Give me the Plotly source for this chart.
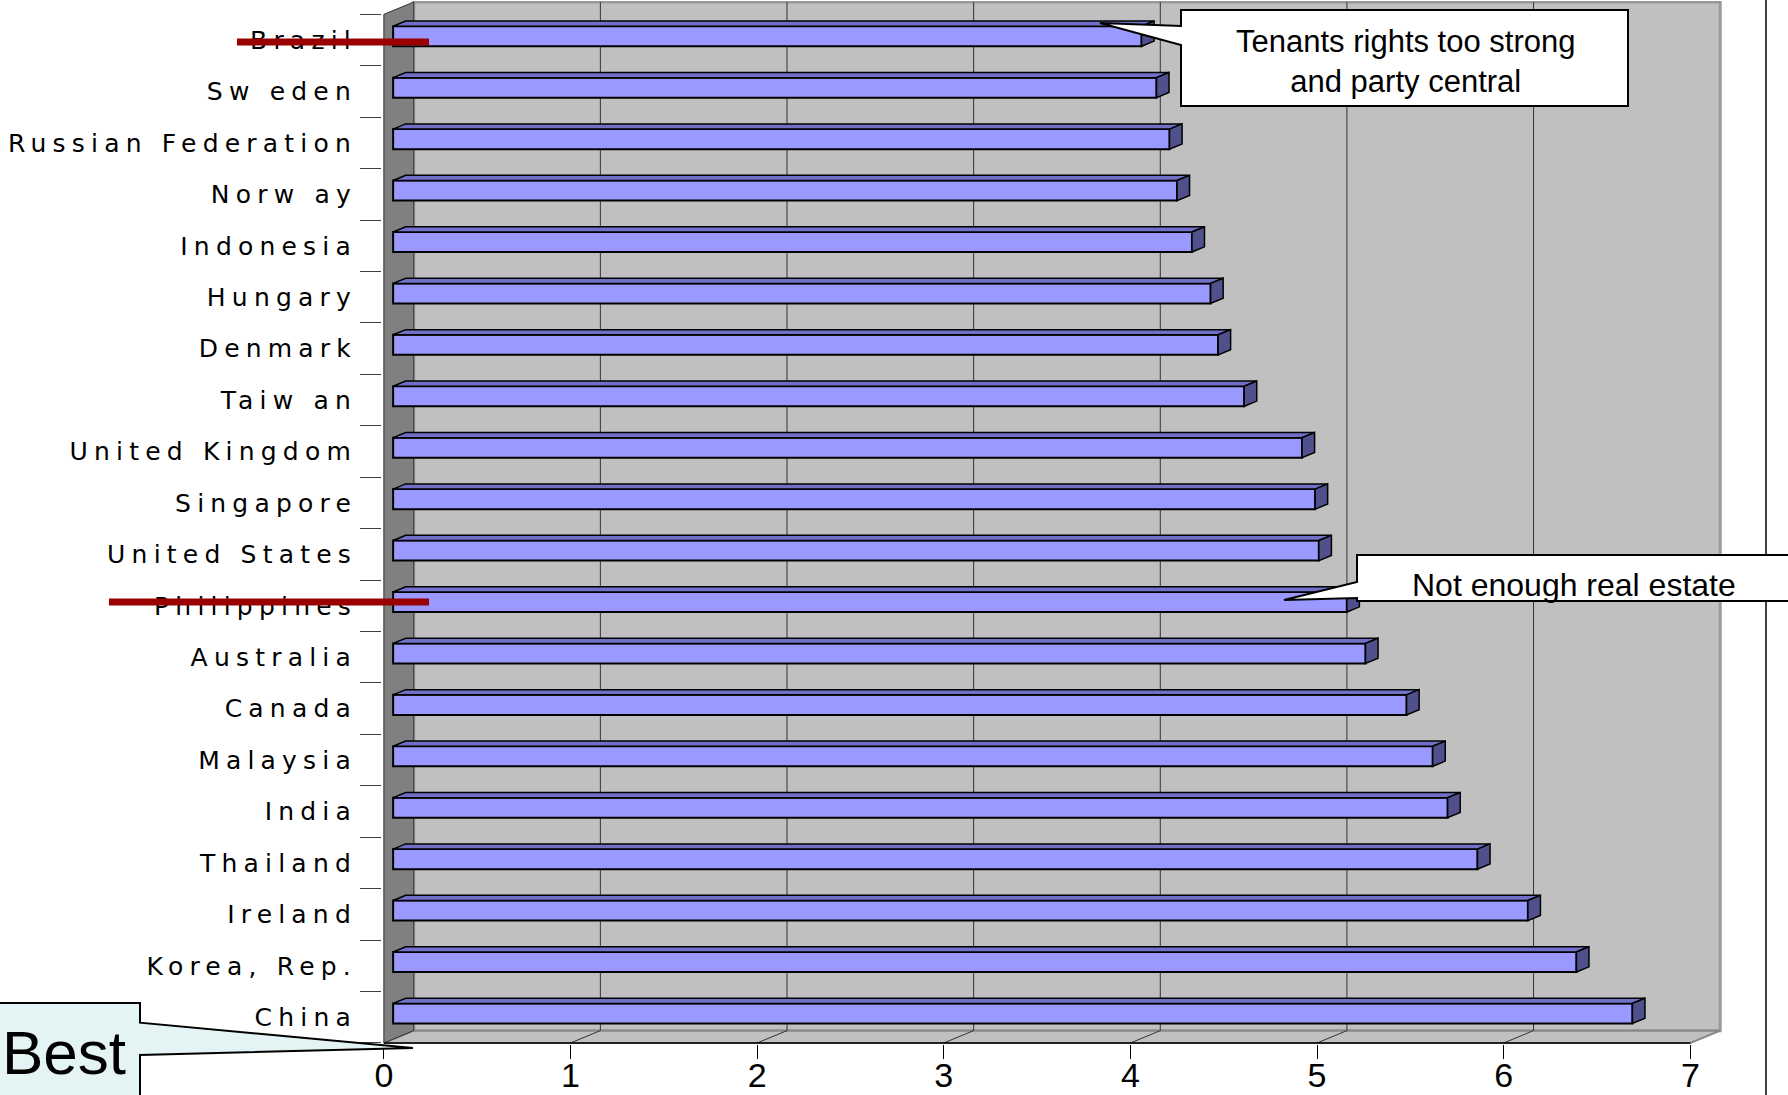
import plotly.graph_objects as go

# ---------------- data ----------------
countries = ["Brazil", "Sw eden", "Russian Federation", "Norw ay", "Indonesia",
             "Hungary", "Denmark", "Taiw an", "United Kingdom", "Singapore",
             "United States", "Philippines", "Australia", "Canada", "Malaysia",
             "India", "Thailand", "Ireland", "Korea, Rep.", "China"]
scores = [4.01, 4.09, 4.16, 4.20, 4.28, 4.38, 4.42, 4.56, 4.87, 4.94,
          4.96, 5.11, 5.21, 5.43, 5.57, 5.65, 5.81, 6.08, 6.34, 6.64]
x_ticks = [0, 1, 2, 3, 4, 5, 6, 7]
callout_top = "Tenants rights too strong<br>and party central"
callout_mid = "Not enough real estate"
callout_best = "Best"

# ---------------- geometry of the faux-3D frame ----------------
DX, DY = 0.16, 0.24          # depth offset of back wall (data units)
D1, D2 = 0.31, 0.73          # bar front / back depth fraction
BAR_H = 0.39
XMAX = 7
n = len(countries)
cats = countries[::-1]
vals = scores[::-1]
idx = list(range(n))

W, H = 1788, 1095
ML, MR, MT, MB = 382, 51, 1, 51
XR = [-0.01, 7.25]
YR = [-0.52, 19.76]
PW, PH = W - ML - MR, H - MT - MB
PLOT_BOTTOM = MT + PH


def px_x(px):
    return (px - ML) / PW


def px_y(py):
    return (PLOT_BOTTOM - py) / PH


fig = go.Figure()

# front faces
b0 = D1 * DX
fig.add_trace(go.Bar(orientation="h", y=[i + D1 * DY for i in idx], x=vals, base=b0,
                     width=BAR_H, marker=dict(color="#9999FF", line=dict(color="black", width=2)),
                     hoverinfo="skip"))

# top and side faces
ddx, ddy = (D2 - D1) * DX, (D2 - D1) * DY
tx, ty, sx, sy = [], [], [], []
for i, v in zip(idx, vals):
    yt = i + D1 * DY + BAR_H / 2
    yb = yt - BAR_H
    x1 = b0 + v
    tx += [b0, x1, x1 + ddx, b0 + ddx, b0, None]
    ty += [yt, yt, yt + ddy, yt + ddy, yt, None]
    sx += [x1, x1 + ddx, x1 + ddx, x1, x1, None]
    sy += [yt, yt + ddy, yb + ddy, yb, yt, None]
fig.add_trace(go.Scatter(x=tx, y=ty, fill="toself", fillcolor="#7070C8", mode="lines",
                         line=dict(color="black", width=1.5), hoverinfo="skip"))
fig.add_trace(go.Scatter(x=sx, y=sy, fill="toself", fillcolor="#50508C", mode="lines",
                         line=dict(color="black", width=1.5), hoverinfo="skip"))

shapes = []
y0, y1 = -0.5, n - 0.5
# back wall
shapes.append(dict(type="rect", xref="x", yref="y", x0=DX, x1=XMAX + DX, y0=y0 + DY, y1=y1 + DY,
                   fillcolor="#C0C0C0", line=dict(color="#999999", width=3), layer="below"))
# floor
shapes.append(dict(type="path", xref="x", yref="y",
                   path=f"M0,{y0} L{XMAX},{y0} L{XMAX+DX},{y0+DY} L{DX},{y0+DY} Z",
                   fillcolor="#C0C0C0", line=dict(color="#888888", width=2), layer="below"))
# left wall
shapes.append(dict(type="path", xref="x", yref="y",
                   path=f"M0,{y0} L{DX},{y0+DY} L{DX},{y1+DY} L0,{y1} Z",
                   fillcolor="#808080", line=dict(color="#333333", width=1), layer="below"))
# grid lines on back wall and floor
for k in x_ticks[1:-1]:
    shapes.append(dict(type="line", xref="x", yref="y", x0=k + DX, x1=k + DX, y0=y0 + DY, y1=y1 + DY,
                       line=dict(color="#333333", width=1), layer="below"))
    shapes.append(dict(type="line", xref="x", yref="y", x0=k, x1=k + DX, y0=y0, y1=y0 + DY,
                       line=dict(color="#333333", width=1), layer="below"))
# front floor edge (x axis line)
shapes.append(dict(type="line", xref="x", yref="y", x0=0, x1=XMAX, y0=y0, y1=y0,
                   line=dict(color="black", width=1.5), layer="above"))

# outer vertical frame line
shapes.append(dict(type="line", xref="paper", yref="paper", x0=px_x(1766), x1=px_x(1766),
                   y0=px_y(0), y1=px_y(H), line=dict(color="black", width=1.5), layer="above"))


def pth(pts):
    return "M" + " L".join(f"{px_x(a):.5f},{px_y(b):.5f}" for a, b in pts) + " Z"


# callouts
shapes.append(dict(type="path", xref="paper", yref="paper",
                   path=pth([(1181, 10), (1628, 10), (1628, 106), (1181, 106), (1181, 45), (1100, 23), (1181, 26)]),
                   fillcolor="white", line=dict(color="black", width=2), layer="above"))
shapes.append(dict(type="path", xref="paper", yref="paper",
                   path=pth([(1357, 555), (1800, 555), (1800, 601), (1357, 601), (1357, 598), (1284, 600), (1357, 582)]),
                   fillcolor="white", line=dict(color="black", width=2), layer="above"))
shapes.append(dict(type="path", xref="paper", yref="paper",
                   path=pth([(-10, 1003), (140, 1003), (140, 1022.7), (413, 1048), (140, 1055), (140, H + 5), (-10, H + 5)]),
                   fillcolor="#E4F4F4", line=dict(color="black", width=2), layer="above"))

# red strike lines
for (xa, xb, yy) in [(237, 429, 42), (109, 429, 602)]:
    shapes.append(dict(type="line", xref="paper", yref="paper", x0=px_x(xa), x1=px_x(xb),
                       y0=px_y(yy), y1=px_y(yy), line=dict(color="#990000", width=7), layer="above"))

annotations = [
    dict(text=callout_top, x=px_x(1405), y=px_y(62), xref="paper", yref="paper", showarrow=False,
         xanchor="center", yanchor="middle",
         font=dict(family="Liberation Sans, Arial", size=31, color="black"), align="center"),
    dict(text=callout_mid, x=px_x(1574), y=px_y(585), xref="paper", yref="paper", showarrow=False,
         xanchor="center", yanchor="middle",
         font=dict(family="Liberation Sans, Arial", size=32, color="black")),
    dict(text=callout_best, x=px_x(64), y=px_y(1052), xref="paper", yref="paper", showarrow=False,
         xanchor="center", yanchor="middle",
         font=dict(family="Liberation Sans, Arial", size=62, color="black")),
]

fig.update_layout(
    width=W, height=H, autosize=False,
    margin=dict(l=ML, r=MR, t=MT, b=MB, autoexpand=False),
    plot_bgcolor="white", paper_bgcolor="white",
    showlegend=False,
    shapes=shapes, annotations=annotations,
    font=dict(family="Liberation Sans, Arial", color="black"),
    xaxis=dict(range=XR, tickvals=x_ticks, ticks="outside", ticklen=14, tickcolor="black",
               tickwidth=1, showgrid=False, zeroline=False, showline=False, automargin=False,
               ticklabelstandoff=-13,
               tickfont=dict(size=34, color="black")),
    yaxis=dict(range=YR, tickvals=idx, ticktext=cats, ticks="", showgrid=False,
               zeroline=False, showline=False, automargin=False, ticklabelstandoff=24,
               tickfont=dict(family="DejaVu Sans", size=25, color="black"),
               minor=dict(tickmode="array", tickvals=[k - 0.5 for k in range(n + 1)],
                          ticks="outside", ticklen=21, tickcolor="#404040", tickwidth=1,
                          showgrid=False)),
)

post = """
document.body.style.margin = '0';
document.body.style.overflow = 'hidden';
var gd = document.getElementById('{plot_id}');
gd.querySelectorAll('.ytick text').forEach(function(t){ t.style.letterSpacing = '6.2px'; });
"""
fig.write_html("out.html", post_script=post, config={"displayModeBar": False})
